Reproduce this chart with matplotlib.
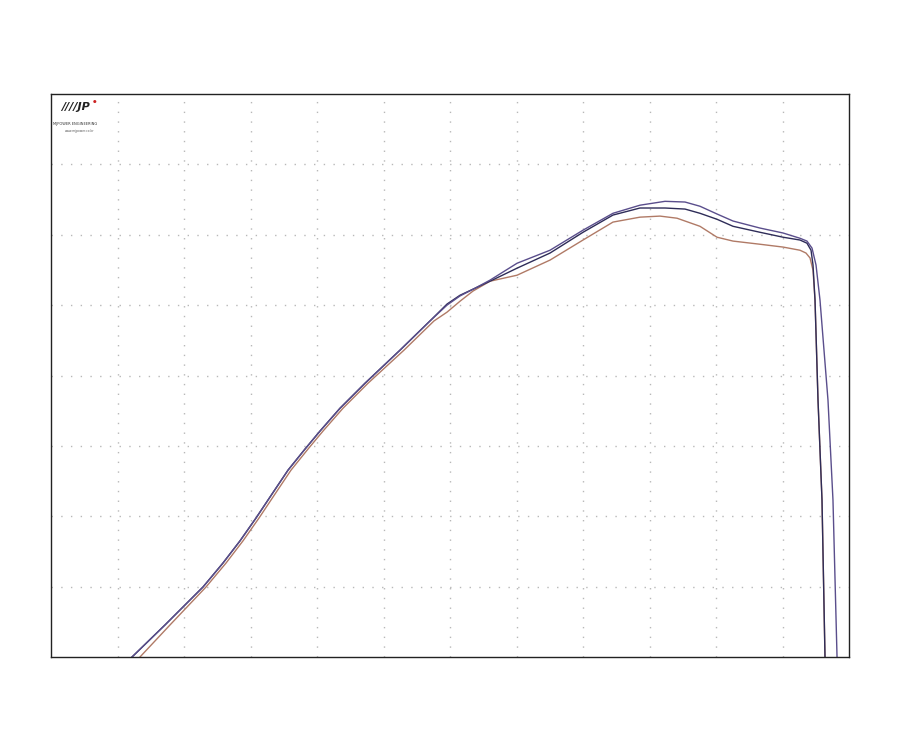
import numpy as np
import matplotlib
matplotlib.use('Agg')
import matplotlib.pyplot as plt

# dyno run: rpm vs power (one grid cell = 1000 rpm x 20)
rpm_a = [1218, 1714, 2286, 2586, 2842, 3083, 3323, 3564, 3820, 4045,
         4346, 4722, 5248, 5699, 5955, 6150, 6376, 6602, 7008, 7504,
         8000, 8451, 8857, 9233, 9534, 9759, 10015, 10256, 10662, 11008,
         11263, 11368, 11444, 11504, 11564, 11624, 11684, 11759, 11820]
pwr_a = [0, 9.1, 19.9, 26.7, 33.0, 39.5, 46.3, 53.1, 59.1, 64.2,
         70.7, 77.8, 87.2, 95.5, 100.0, 102.6, 104.8, 107.1, 111.9, 115.6,
         121.3, 126.1, 128.4, 129.5, 129.3, 128.1, 125.9, 123.9, 121.9, 120.5,
         119.0, 118.2, 116.2, 111.4, 101.4, 87.2, 73.0, 44.6, 0]

rpm_b = [1218, 1714, 2286, 2586, 2842, 3083, 3323, 3564, 3820, 4045,
         4346, 4722, 5248, 5699, 5955, 6150, 6376, 6602, 7008, 7504,
         8000, 8451, 8857, 9233, 9534, 9759, 10015, 10256, 10662, 11008,
         11263, 11368, 11429, 11459, 11489, 11534, 11594, 11639]
pwr_b = [0, 9.1, 19.9, 26.7, 33.0, 39.5, 46.3, 53.1, 59.1, 64.2,
         70.7, 77.8, 87.2, 95.5, 100.3, 102.8, 104.8, 106.8, 110.5, 114.8,
         120.7, 125.6, 127.6, 127.6, 127.3, 126.1, 124.4, 122.4, 120.7, 119.3,
         118.5, 117.6, 115.6, 111.4, 101.4, 73.0, 44.6, 0]

rpm_c = [1338, 1789, 2331, 2632, 2887, 3128, 3368, 3609, 3865, 4090,
         4391, 4767, 5308, 5759, 5955, 6150, 6346, 6602, 7008, 7504,
         8000, 8451, 8857, 9158, 9414, 9759, 10015, 10256, 10662, 11008,
         11263, 11353, 11414, 11459, 11489, 11534, 11594, 11639]
pwr_c = [0, 9.1, 19.9, 26.7, 33.0, 39.5, 46.3, 53.1, 59.1, 64.2,
         70.7, 77.8, 87.2, 95.5, 98.0, 101.1, 104.0, 106.8, 108.5, 112.8,
         118.5, 123.6, 125.0, 125.3, 124.7, 122.4, 119.3, 118.2, 117.3, 116.5,
         115.6, 114.8, 113.4, 109.9, 101.4, 73.0, 44.6, 0]

fig = plt.figure(figsize=(9, 7.52), dpi=100)
ax = fig.add_axes([51/900, 95/752, 798/900, 563/752])

ax.plot(rpm_c, pwr_c, color='#b07a66', lw=1.0)
ax.plot(rpm_b, pwr_b, color='#2e2c58', lw=1.0)
ax.plot(rpm_a, pwr_a, color='#5a4e8c', lw=1.0)

ax.set_xlim(0, 12000)
ax.set_ylim(0, 160)
ax.set_xticks(np.arange(1000, 12000, 1000))
ax.set_yticks(np.arange(20, 160, 20))
ax.tick_params(length=0, labelbottom=False, labelleft=False)
ax.grid(True, color='#b8b8b8', linestyle=(0, (1, 6)), lw=1.0)
for s in ax.spines.values():
    s.set_color('#222222')
    s.set_linewidth(1.0)

# logo, top left
ax.text(0.013, 0.985, '////JP', transform=ax.transAxes, fontsize=8,
        fontweight='bold', style='italic', color='#222222', va='top', ha='left')
ax.text(0.052, 0.990, '\u25cf', transform=ax.transAxes, fontsize=3,
        color='#cc2222', va='top', ha='left')
ax.text(0.002, 0.950, 'MJPOWER ENGINEERING', transform=ax.transAxes,
        fontsize=2.6, color='#333333', va='top', ha='left')
ax.text(0.018, 0.938, 'www.mjpower.co.kr', transform=ax.transAxes,
        fontsize=2.2, color='#555555', va='top', ha='left')

fig.savefig('out.png', dpi=100)
